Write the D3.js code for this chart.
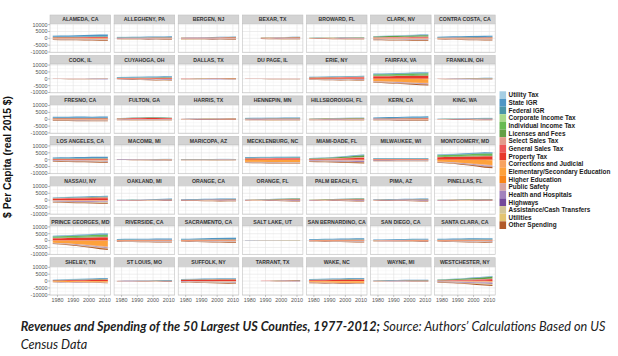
<!DOCTYPE html>
<html><head><meta charset="utf-8">
<script src="https://cdn.jsdelivr.net/npm/d3@7"></script>
<style>body{margin:0;background:#fff}svg{display:block}</style>
</head><body><svg id="c" width="618" height="356"></svg>
<script>
// ---------------- DATA ----------------
const years = [1977, 1982, 1987, 1992, 1997, 2002, 2007, 2012];
const xTicks = [1980, 1990, 2000, 2010];
const xMinor = [1975, 1985, 1995, 2005];
const yTicks = [10000, 5000, 0, -5000, -10000];
const yMinor = [7500, 2500, -2500, -7500];

const counties = [
  "ALAMEDA, CA","ALLEGHENY, PA","BERGEN, NJ","BEXAR, TX","BROWARD, FL","CLARK, NV","CONTRA COSTA, CA",
  "COOK, IL","CUYAHOGA, OH","DALLAS, TX","DU PAGE, IL","ERIE, NY","FAIRFAX, VA","FRANKLIN, OH",
  "FRESNO, CA","FULTON, GA","HARRIS, TX","HENNEPIN, MN","HILLSBOROUGH, FL","KERN, CA","KING, WA",
  "LOS ANGELES, CA","MACOMB, MI","MARICOPA, AZ","MECKLENBURG, NC","MIAMI-DADE, FL","MILWAUKEE, WI","MONTGOMERY, MD",
  "NASSAU, NY","OAKLAND, MI","ORANGE, CA","ORANGE, FL","PALM BEACH, FL","PIMA, AZ","PINELLAS, FL",
  "PRINCE GEORGES, MD","RIVERSIDE, CA","SACRAMENTO, CA","SALT LAKE, UT","SAN BERNARDINO, CA","SAN DIEGO, CA","SANTA CLARA, CA",
  "SHELBY, TN","ST LOUIS, MO","SUFFOLK, NY","TARRANT, TX","WAKE, NC","WAYNE, MI","WESTCHESTER, NY"
];

const revenueSeries = ["Utility Tax","State IGR","Federal IGR","Corporate Income Tax","Individual Income Tax",
  "Licenses and Fees","Select Sales Tax","General Sales Tax","Property Tax"];
const spendingSeries = ["Corrections and Judicial","Elementary/Secondary Education","Higher Education","Public Safety",
  "Health and Hospitals","Highways","Assistance/Cash Transfers","Utilities","Other Spending"];
const seriesColors = ["#a6cee3","#4f96c5","#4a96a8","#a9d98c","#67ba53","#629f46","#e39b8c","#ee5657","#e8372b",
  "#f8a260","#fea13b","#f98519","#d7a6a4","#a282bd","#73489a","#d3c699","#e3c471","#b15928"];

// revenue composition shares (order of revenueSeries)
const revShareCA   = [0.02, 0.42, 0.10, 0.00, 0.00, 0.08, 0.03, 0.05, 0.30];
const revShareNY   = [0.02, 0.15, 0.06, 0.00, 0.00, 0.10, 0.05, 0.17, 0.45];
const revShareMD   = [0.02, 0.08, 0.08, 0.00, 0.22, 0.10, 0.04, 0.00, 0.46];
const revShareFL   = [0.03, 0.10, 0.06, 0.00, 0.00, 0.30, 0.08, 0.08, 0.35];
const revShareTX   = [0.02, 0.05, 0.05, 0.00, 0.00, 0.20, 0.05, 0.10, 0.53];
const revShareMW   = [0.03, 0.30, 0.12, 0.00, 0.00, 0.12, 0.05, 0.10, 0.28];
const revShareNV   = [0.03, 0.10, 0.05, 0.00, 0.00, 0.35, 0.10, 0.17, 0.20];
const revShareNC   = [0.03, 0.25, 0.05, 0.00, 0.00, 0.12, 0.03, 0.15, 0.37];
// spending composition shares (order of spendingSeries)
const spShareCA     = [0.25, 0.00, 0.00, 0.20, 0.12, 0.05, 0.10, 0.02, 0.26];
const spShareGen    = [0.15, 0.00, 0.02, 0.20, 0.15, 0.10, 0.08, 0.05, 0.25];
const spShareSchool = [0.05, 0.55, 0.05, 0.08, 0.05, 0.03, 0.03, 0.02, 0.14];
const spShareNY     = [0.10, 0.05, 0.03, 0.17, 0.15, 0.08, 0.17, 0.03, 0.22];

const countyRevShare = [
  revShareCA, revShareMW, revShareNY, revShareTX, revShareFL, revShareNV, revShareCA,
  revShareMW, revShareMW, revShareTX, revShareMW, revShareNY, revShareMD, revShareMW,
  revShareCA, revShareTX, revShareTX, revShareMW, revShareFL, revShareCA, revShareMW,
  revShareCA, revShareMW, revShareMW, revShareNC, revShareFL, revShareMW, revShareMD,
  revShareNY, revShareMW, revShareCA, revShareFL, revShareFL, revShareMW, revShareFL,
  revShareMD, revShareCA, revShareCA, revShareMW, revShareCA, revShareCA, revShareCA,
  revShareNC, revShareMW, revShareNY, revShareTX, revShareNC, revShareMW, revShareNV
];
const countySpendShare = [
  spShareCA, spShareGen, spShareGen, spShareGen, spShareGen, spShareGen, spShareCA,
  spShareGen, spShareGen, spShareGen, spShareGen, spShareNY, spShareSchool, spShareGen,
  spShareCA, spShareGen, spShareGen, spShareGen, spShareGen, spShareCA, spShareGen,
  spShareCA, spShareGen, spShareGen, spShareSchool, spShareGen, spShareGen, spShareSchool,
  spShareNY, spShareGen, spShareCA, spShareGen, spShareGen, spShareGen, spShareGen,
  spShareSchool, spShareCA, spShareCA, spShareGen, spShareCA, spShareCA, spShareCA,
  spShareSchool, spShareGen, spShareNY, spShareGen, spShareSchool, spShareGen, spShareNY
];

// total revenue per capita by year (positive side)
const revTotals = [
  [2000,2100,2200,2300,2400,2600,2800,2900],[1100,1100,1200,1200,1300,1400,1400,1500],
  [700,800,800,900,1000,1100,1200,1300],[null,null,600,700,800,900,1100,1200],
  [500,600,700,700,800,800,900,900],[1600,1800,2000,2200,2400,2600,2800,2800],
  [1200,1300,1500,1600,1700,1800,1900,2000],
  [300,300,300,300,300,400,400,400],[1300,1400,1500,1600,1700,1800,1900,2000],
  [300,300,400,400,500,500,600,600],[300,300,300,300,300,300,300,300],
  [1500,1600,1700,1800,1900,2000,2100,2200],[3900,4000,4100,4300,4400,4600,4800,4900],
  [300,300,400,500,600,600,700,700],
  [1800,1900,1900,2000,2000,1900,2000,2000],[800,1000,1300,1500,1700,1600,1400,1200],
  [400,500,500,600,600,700,800,800],[1000,1100,1100,1200,1200,1300,1400,1400],
  [600,700,800,900,1000,1100,1200,1200],[1300,1400,1600,1700,1800,2000,2100,2200],
  [400,500,600,700,800,900,1000,1000],
  [1700,1800,1900,2000,2000,2100,2200,2200],[300,300,300,400,400,500,600,600],
  [500,500,500,500,500,600,600,500],[2000,2000,2100,2100,2200,2200,2300,2300],
  [1200,1400,1700,2000,2400,2900,3500,3900],[1200,1200,1200,1200,1200,1200,1200,1200],
  [3900,4100,4300,4600,4900,5200,5500,5600],
  [2000,2200,2400,2600,2800,3000,3100,3200],[300,300,400,500,600,800,1000,1200],
  [700,800,900,1000,1100,1200,1300,1300],[400,500,600,800,1000,1200,1400,1400],
  [300,500,700,900,1100,1200,1400,1400],[600,700,800,900,1000,1100,1200,1200],
  [300,400,500,600,700,800,900,900],
  [3600,3800,4000,4300,4600,4900,5200,5300],[1200,1300,1300,1400,1400,1500,1500,1500],
  [1300,1400,1600,1700,1900,2000,2100,2200],[200,200,200,200,200,200,200,200],
  [1100,1200,1300,1400,1500,1600,1700,1700],[800,900,1000,1100,1200,1300,1400,1400],
  [1300,1400,1500,1600,1700,1700,1800,1800],
  [1000,1200,1400,1600,1800,2000,2200,2300],[300,400,400,500,500,600,700,700],
  [1500,1600,1700,1800,1900,2000,2000,2000],[null,null,200,300,400,500,600,700],
  [1500,1600,1800,1900,2000,2200,2300,2300],[500,600,700,800,900,1000,1000,1000],
  [1200,1400,1700,2000,2400,2800,3300,3800]
];
// total spending per capita by year (drawn below zero)
const spendTotals = [
  [1200,1300,1300,1400,1500,1600,1700,1700],[700,800,800,900,1000,1100,1200,1200],
  [800,800,900,900,1000,1100,1200,1200],[null,null,500,600,700,800,900,900],
  [300,400,500,600,700,800,900,900],[1300,1400,1500,1500,1600,1700,1700,1700],
  [900,1000,1100,1200,1300,1400,1500,1500],
  [200,200,300,300,300,300,400,400],[600,700,800,900,1000,1200,1300,1400],
  [300,300,300,400,400,400,500,500],[200,200,200,300,300,300,300,300],
  [800,900,1000,1100,1200,1300,1400,1400],[2900,3100,3400,3700,4000,4300,4700,4900],
  [200,300,300,400,400,500,500,500],
  [1200,1300,1300,1400,1400,1500,1500,1500],[700,800,900,1000,1000,1000,1000,1000],
  [400,400,500,500,500,600,600,600],[700,800,800,900,900,1000,1000,1000],
  [700,700,800,800,800,900,900,900],[900,1000,1000,1100,1100,1200,1300,1300],
  [400,400,500,500,600,700,800,800],
  [1500,1600,1700,1800,1900,2100,2200,2300],[300,300,400,400,500,600,800,1000],
  [400,400,400,400,500,500,500,400],[2500,2600,2600,2700,2700,2800,2800,2800],
  [1700,1800,1900,2100,2300,2500,2600,2700],[1100,1100,1100,1200,1200,1200,1200,1200],
  [2200,2600,3000,3600,4300,5000,5800,6300],
  [1800,1900,2000,2200,2300,2500,2600,2700],[300,300,400,400,500,500,600,600],
  [600,700,700,800,800,900,1000,1000],[400,500,500,600,700,800,900,900],
  [300,400,500,600,700,800,900,900],[500,600,600,700,700,800,900,900],
  [300,400,400,500,500,600,700,700],
  [2500,2900,3400,4000,4700,5400,6300,6900],[1000,1100,1100,1200,1200,1300,1300,1300],
  [900,1000,1100,1200,1300,1400,1500,1500],[100,100,200,200,200,300,300,300],
  [800,900,1000,1100,1100,1200,1300,1300],[600,700,700,800,800,900,1000,1000],
  [900,1000,1100,1200,1300,1400,1500,1600],
  [900,1000,1100,1200,1300,1400,1500,1600],[300,400,400,500,500,600,700,700],
  [1200,1300,1400,1500,1600,1800,1900,2000],[null,null,200,200,300,300,400,400],
  [1700,1800,1900,2000,2100,2100,2200,2200],[300,300,400,400,400,500,500,500],
  [1200,1400,1700,2000,2400,2800,3200,3600]
];

// ---------------- DRAW ----------------
const allSeries = revenueSeries.concat(spendingSeries);
const color = d3.scaleOrdinal().domain(allSeries).range(seriesColors);
const stackKeys = revenueSeries.slice().reverse().concat(spendingSeries);

const svg = d3.select("#c");
const FONT = "'Liberation Sans', Arial, Helvetica, sans-serif";
const px0 = 50, pitchX = 64.1, pw = 60.6, py0 = 15, pitchY = 40.45, stripH = 8.6, ph = 28.8;

const x = d3.scaleLinear().domain([1975.25, 2013.75]).range([0, pw]);
const y = d3.scaleLinear().domain([-10250, 10750]).range([ph, 0]);

const area = d3.area()
  .defined(d => d.data.ok)
  .x(d => x(d.data.year))
  .y0(d => y(d[0]))
  .y1(d => y(d[1]));

counties.forEach((name, i) => {
  const col = i % 7, row = Math.floor(i / 7);
  const g = svg.append("g").attr("transform", `translate(${px0 + col * pitchX},${py0 + row * pitchY})`);
  // strip
  g.append("rect").attr("x", 0).attr("y", 0).attr("width", pw).attr("height", stripH)
    .attr("fill", "#d3d3d3").attr("stroke", "#c2c2c2").attr("stroke-width", 0.6);
  g.append("text").attr("x", pw / 2).attr("y", stripH / 2 + 0.2).attr("dy", "0.35em")
    .attr("text-anchor", "middle").attr("font-family", FONT).attr("font-weight", "bold")
    .attr("font-size", 5.2).attr("fill", "#333").text(name);

  const p = g.append("g").attr("transform", `translate(0,${stripH})`);
  p.append("rect").attr("width", pw).attr("height", ph).attr("fill", "#fff");
  // grid
  p.selectAll(".vmin").data(xMinor.filter(v => x(v) > 0)).enter().append("line")
    .attr("x1", d => x(d)).attr("x2", d => x(d)).attr("y1", 0).attr("y2", ph)
    .attr("stroke", "#f0f0f0").attr("stroke-width", 0.4);
  p.selectAll(".hmin").data(yMinor).enter().append("line")
    .attr("x1", 0).attr("x2", pw).attr("y1", d => y(d)).attr("y2", d => y(d))
    .attr("stroke", "#f0f0f0").attr("stroke-width", 0.4);
  p.selectAll(".vmaj").data(xTicks).enter().append("line")
    .attr("x1", d => x(d)).attr("x2", d => x(d)).attr("y1", 0).attr("y2", ph)
    .attr("stroke", "#e3e3e3").attr("stroke-width", 0.6);
  p.selectAll(".hmaj").data(yTicks).enter().append("line")
    .attr("x1", 0).attr("x2", pw).attr("y1", d => y(d)).attr("y2", d => y(d))
    .attr("stroke", "#e3e3e3").attr("stroke-width", 0.6);

  // stacked areas
  const rs = countyRevShare[i], ss = countySpendShare[i];
  const rows = years.map((yr, j) => {
    const ok = revTotals[i][j] != null && spendTotals[i][j] != null;
    const r = { year: yr, ok: ok };
    revenueSeries.forEach((s, k) => r[s] = ok ? revTotals[i][j] * rs[k] : 0);
    spendingSeries.forEach((s, k) => r[s] = ok ? -spendTotals[i][j] * ss[k] : 0);
    return r;
  });
  const stacked = d3.stack().keys(stackKeys).offset(d3.stackOffsetDiverging)(rows);
  p.selectAll(".layer").data(stacked).enter().append("path")
    .attr("d", area).attr("fill", d => color(d.key));

  // border
  p.append("rect").attr("width", pw).attr("height", ph).attr("fill", "none")
    .attr("stroke", "#c2c2c2").attr("stroke-width", 0.6);

  // y axis labels on first column
  if (col === 0) {
    yTicks.forEach(v => {
      p.append("line").attr("x1", -2).attr("x2", 0).attr("y1", y(v)).attr("y2", y(v))
        .attr("stroke", "#888").attr("stroke-width", 0.5);
      p.append("text").attr("x", -2.6).attr("y", y(v)).attr("dy", "0.35em")
        .attr("text-anchor", "end").attr("font-family", FONT).attr("font-size", 5.4)
        .attr("fill", "#555").text(v);
    });
  }
  // x axis labels on bottom row
  if (row === 6) {
    xTicks.forEach(v => {
      p.append("line").attr("x1", x(v)).attr("x2", x(v)).attr("y1", ph).attr("y2", ph + 1.8)
        .attr("stroke", "#888").attr("stroke-width", 0.5);
      p.append("text").attr("x", x(v)).attr("y", ph + 6.5)
        .attr("text-anchor", "middle").attr("font-family", FONT).attr("font-size", 5.4)
        .attr("fill", "#555").text(v);
    });
  }
});

// y axis title
svg.append("text").attr("transform", "translate(11,157) rotate(-90)")
  .attr("text-anchor", "middle").attr("font-family", FONT).attr("font-weight", "bold")
  .attr("font-size", 10.3).attr("fill", "#111").text("$ Per Capita (real 2015 $)");

// legend
const lg = svg.append("g").attr("transform", "translate(499.5,91.3)");
const legendTexts = [];
allSeries.forEach((s, k) => {
  lg.append("rect").attr("x", 0).attr("y", k * 7.65).attr("width", 6.6).attr("height", 7.65)
    .attr("fill", color(s));
  legendTexts.push(lg.append("text").attr("x", 9).attr("y", k * 7.65 + 3.9)
    .attr("dy", "0.35em")
    .attr("font-family", FONT).attr("font-weight", "bold").attr("font-size", 7)
    .attr("fill", "#1a1a1a").text(s));
});
// fit the longest label to the reference width (about 103px)
const maxW = d3.max(legendTexts, t => t.node().getComputedTextLength());
const legendFs = Math.min(7, 7 * 102 / maxW);
legendTexts.forEach(t => t.attr("font-size", legendFs));

// caption
const cap = svg.append("text").attr("x", 20.7).attr("y", 331)
  .attr("font-family", "Lato, 'Open Sans', sans-serif").attr("font-style", "italic")
  .attr("font-size", 12.7).attr("fill", "#222");
cap.append("tspan").attr("font-weight", "bold").text("Revenues and Spending of the 50 Largest US Counties, 1977-2012;");
cap.append("tspan").text(" Source: Authors\u2019 Calculations Based on US");
svg.append("text").attr("x", 20.7).attr("y", 348.5)
  .attr("font-family", "Lato, 'Open Sans', sans-serif").attr("font-style", "italic")
  .attr("font-size", 12.7).attr("fill", "#222").text("Census Data");
</script></body></html>
